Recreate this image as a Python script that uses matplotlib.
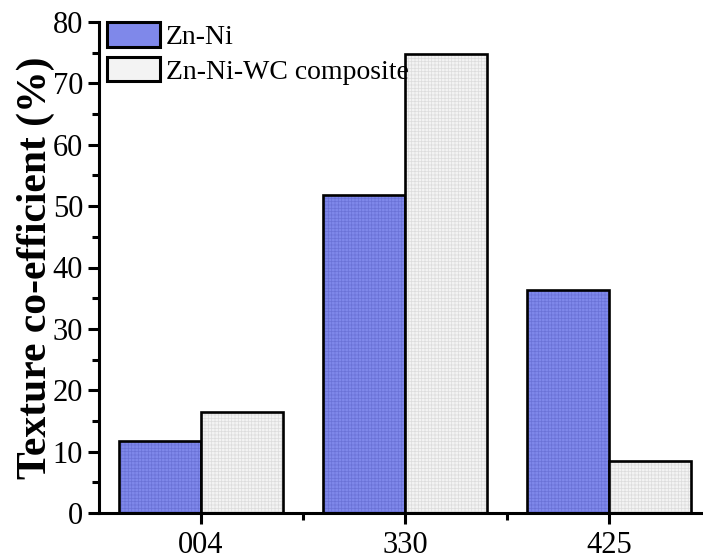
import numpy as np
import matplotlib
matplotlib.use('Agg')
import matplotlib.pyplot as plt
from matplotlib.patches import Patch
from matplotlib.ticker import MultipleLocator, FixedLocator

categories = ['004', '330', '425']
zn_ni = [11.8, 51.8, 36.4]
zn_ni_wc = [16.5, 74.8, 8.4]

plt.rcParams['font.family'] = ['Liberation Serif', 'DejaVu Serif']
plt.rcParams['hatch.linewidth'] = 0.5

blue, blue_h = '#7F88EA', '#6A72D6'
grey, grey_h = '#F3F3F3', '#DCDCDC'

fig = plt.figure(figsize=(7.03, 5.54), dpi=100)
# axes run past the right edge, as in the original crop
ax = fig.add_axes([99 / 703, 41 / 554, 612 / 703, 491 / 554])

x = np.arange(len(categories))
w = 0.4
# fill, then fine texture, then black outline
for xs, vals, fc, hc in [(x - w / 2, zn_ni, blue, blue_h),
                         (x + w / 2, zn_ni_wc, grey, grey_h)]:
    ax.bar(xs, vals, w, color=fc, linewidth=0)
    ax.bar(xs, vals, w, fill=False, edgecolor=hc, linewidth=0, hatch='+++++')
    ax.bar(xs, vals, w, fill=False, edgecolor='black', linewidth=1.9)

ax.set_xlim(-0.5, 2.5)
ax.set_ylim(0, 80)
ax.set_xticks(x)
ax.set_xticklabels(categories)
ax.xaxis.set_minor_locator(FixedLocator([0.5, 1.5]))
ax.yaxis.set_major_locator(MultipleLocator(10))
ax.yaxis.set_minor_locator(MultipleLocator(5))

for s in ['top', 'right']:
    ax.spines[s].set_visible(False)
for s in ['left', 'bottom']:
    ax.spines[s].set_linewidth(2.2)

ax.tick_params(which='major', direction='out', length=8, width=2.2, labelsize=22)
ax.tick_params(which='minor', direction='out', length=5, width=2.2)
ax.tick_params(axis='x', pad=5)

ax.set_ylabel('Texture co-efficient (%)', fontsize=30, fontweight='bold')
ax.yaxis.set_label_coords(-0.072, 0.5)

handles = [Patch(facecolor=blue, edgecolor='black', linewidth=2.2, label='Zn-Ni'),
           Patch(facecolor=grey, edgecolor='black', linewidth=2.2,
                 label='Zn-Ni-WC composite')]
ax.legend(handles=handles, loc='upper left', bbox_to_anchor=(0.013, 0.999),
          frameon=False, fontsize=20, handlelength=1.9, handleheight=0.97,
          handletextpad=0.22, labelspacing=0.25, borderpad=0, borderaxespad=0)

fig.savefig('out.png', dpi=100)
